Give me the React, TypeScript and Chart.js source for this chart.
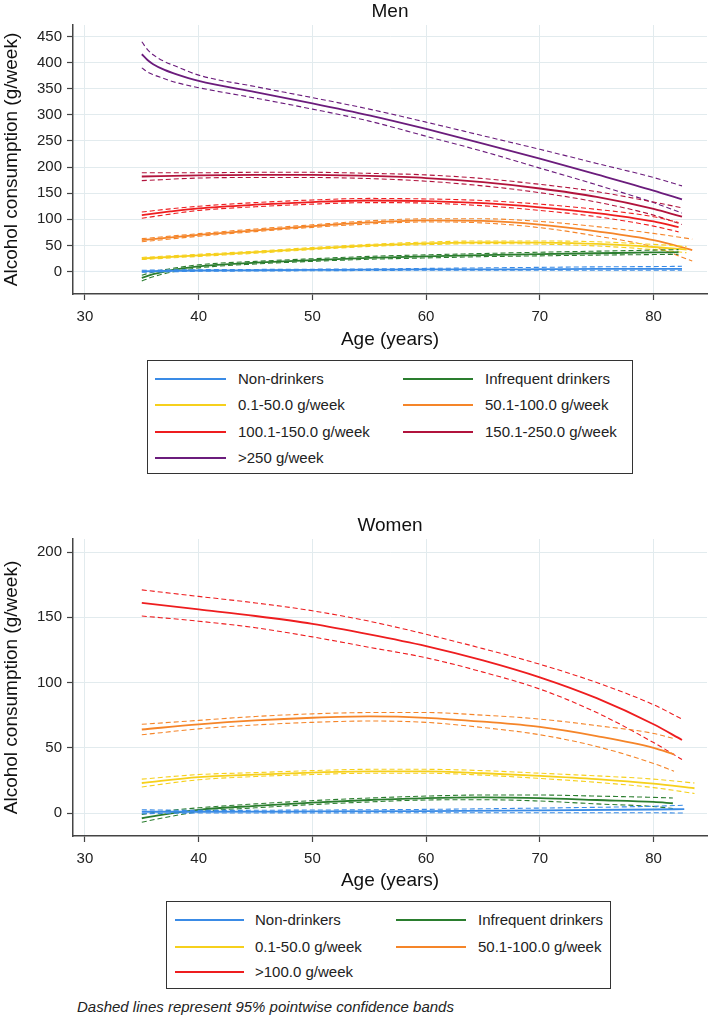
import React, { useEffect, useRef } from "react";
import { Chart, registerables } from "chart.js";

Chart.register(...registerables);

const FONT = '"Liberation Sans", Arial, Helvetica, sans-serif';

// ---------- Men ----------
const M_LABELS = ["Non-drinkers", "Infrequent drinkers", "0.1-50.0 g/week", "50.1-100.0 g/week", "100.1-150.0 g/week", "150.1-250.0 g/week", ">250 g/week"];
const M_COLORS = ["#3a8be6", "#2a7d2e", "#f6d01c", "#f58529", "#ee1d1f", "#b1133c", "#6b1c7c"];

const AGES_M_NON = [35, 40, 45, 50, 55, 60, 65, 70, 75, 80, 82.5];
const M_NON = [0.5, 2, 2.5, 3, 3.5, 4, 4, 4.5, 5, 5, 5];
const M_NON_UP = [2.5, 3.5, 4, 4.5, 5, 6, 7, 8, 9, 9.5, 10];
const M_NON_LO = [-1.5, 0.5, 1, 1.5, 2, 2.5, 2.5, 2.5, 2.5, 2.5, 2.5];

const AGES_M_INF = [35, 36, 37, 38, 40, 45, 50, 55, 60, 65, 70, 75, 80, 82.2];
const M_INF = [-12, -5, 0, 4, 10, 17, 22, 26, 29, 31.5, 33.5, 35, 36.5, 37];
const M_INF_UP = [-7, -1, 3.5, 7, 13, 19.5, 24.5, 29, 32, 34.5, 37, 39, 41, 42];
const M_INF_LO = [-18, -10, -4, 0.5, 7, 14.5, 19.5, 23.5, 26, 28.5, 30, 31.5, 32.5, 33];

const AGES_M_LOW = [35, 40, 45, 50, 55, 60, 65, 70, 75, 80, 82.9];
const M_LOW = [25, 31, 37, 44, 50, 54, 56, 55.5, 53, 47, 42];
const M_LOW_UP = [27, 33, 39, 46, 52, 56.5, 58.5, 58.5, 57, 52, 48];
const M_LOW_LO = [23, 29, 35, 42, 48, 51.5, 53.5, 52.5, 49, 42, 36];

const AGES_M_MOD = [35, 40, 45, 50, 55, 60, 65, 70, 75, 80, 83.4];
const M_MOD = [60, 70, 79, 87, 94, 98, 97, 90, 77, 60, 41];
const M_MOD_UP = [63, 72.5, 81.5, 89.5, 97, 101, 101, 96, 86, 73, 62];
const M_MOD_LO = [57, 67.5, 76.5, 84.5, 91, 95, 93, 84, 68, 47, 20];

const AGES_M_HIGH = [35, 37.5, 40, 45, 50, 55, 60, 65, 70, 75, 80, 82.2];
const M_HIGH = [108, 115, 121, 128, 133, 136, 135, 131, 123, 112, 96, 85];
const M_HIGH_UP = [114, 120, 125, 132, 137, 140, 139, 136, 129, 119, 105, 94];
const M_HIGH_LO = [102, 110, 117, 124, 129, 132, 131, 126, 117, 105, 87, 76];

const AGES_M_VHIGH = [35, 40, 45, 50, 55, 60, 65, 70, 75, 80, 82.5];
const M_VHIGH = [182, 184, 185, 185, 183, 179, 171, 159, 143, 120, 105];
const M_VHIGH_UP = [189, 189, 190, 190, 188, 185, 178, 167, 153, 133, 122];
const M_VHIGH_LO = [174, 179, 180, 180, 178, 173, 164, 151, 133, 108, 90];

const AGES_M_HEAVY = [35, 35.5, 36, 37, 38, 40, 45, 50, 55, 60, 65, 70, 75, 80, 82.5];
const M_HEAVY = [416, 405, 397, 386, 378, 365, 343.5, 322, 299, 273, 245, 216, 186, 155, 138];
const M_HEAVY_UP = [440, 425, 415, 402, 393, 376, 354, 333, 311, 286, 260, 234, 207, 180, 164];
const M_HEAVY_LO = [390, 382, 377, 369, 362, 352, 332, 311, 288, 259, 230, 198, 166, 132, 112];

// ---------- Women ----------
const W_LABELS = ["Non-drinkers", "Infrequent drinkers", "0.1-50.0 g/week", "50.1-100.0 g/week", ">100.0 g/week"];
const W_COLORS = ["#3a8be6", "#2a7d2e", "#f6d01c", "#f58529", "#ee1d1f"];

const AGES_W_NON = [35, 40, 50, 60, 70, 80, 82.7];
const W_NON = [1, 1, 1.2, 1.5, 2, 2.7, 3];
const W_NON_UP = [2.5, 2, 2.3, 2.8, 3.8, 5.2, 6];
const W_NON_LO = [-0.5, 0, 0.1, 0.2, 0.2, 0.2, 0];

const AGES_W_INF = [35, 37, 40, 45, 50, 55, 60, 65, 70, 75, 80, 81.7];
const W_INF = [-4, -1, 2.5, 5.5, 8, 10, 11.5, 12, 11.5, 10, 8.5, 7.5];
const W_INF_UP = [-1, 1.5, 4, 7, 9.5, 11.5, 13, 13.8, 13.8, 13, 12, 11.5];
const W_INF_LO = [-7, -3.5, 1, 4, 6.5, 8.5, 10, 10.2, 9.2, 7, 5, 3.5];

const AGES_W_LOW = [35, 40, 45, 50, 55, 60, 65, 70, 75, 80, 83.6];
const W_LOW = [23, 27.5, 29.5, 31, 32, 32, 30.5, 28.5, 26, 22.5, 19];
const W_LOW_UP = [26, 29.5, 31, 32.5, 33.5, 33.5, 32.5, 30.5, 28.5, 26, 23];
const W_LOW_LO = [20, 25.5, 28, 29.5, 30.5, 30.5, 29, 26.5, 23.5, 19.5, 15];

const AGES_W_MOD = [35, 40, 45, 50, 55, 60, 65, 70, 75, 80, 81.8];
const W_MOD = [64, 68, 71, 73, 74, 73, 70, 66, 59, 50, 45];
const W_MOD_UP = [68, 71, 74, 76, 77, 77, 75, 72, 67, 61, 57];
const W_MOD_LO = [60, 64.5, 67.5, 69.5, 70.5, 69.5, 65.5, 60, 51, 38, 32];

const AGES_W_HIGH = [35, 40, 45, 50, 55, 60, 65, 70, 75, 80, 82.5];
const W_HIGH = [161, 156, 151, 145, 137, 128, 117, 104, 88, 68, 56];
const W_HIGH_UP = [171, 166, 161, 155, 147, 137, 126, 114, 100, 83, 72];
const W_HIGH_LO = [151, 147, 142, 135, 127, 119, 108, 95, 77, 54, 41];

const X_TICK_STEP = 10;
const M_Y_STEP = 50;
const W_Y_STEP = 50;

type Series = { label: string; color: string; ages: number[]; mean: number[]; upper: number[]; lower: number[] };

const MEN: Series[] = [
  { label: M_LABELS[0], color: M_COLORS[0], ages: AGES_M_NON, mean: M_NON, upper: M_NON_UP, lower: M_NON_LO },
  { label: M_LABELS[1], color: M_COLORS[1], ages: AGES_M_INF, mean: M_INF, upper: M_INF_UP, lower: M_INF_LO },
  { label: M_LABELS[2], color: M_COLORS[2], ages: AGES_M_LOW, mean: M_LOW, upper: M_LOW_UP, lower: M_LOW_LO },
  { label: M_LABELS[3], color: M_COLORS[3], ages: AGES_M_MOD, mean: M_MOD, upper: M_MOD_UP, lower: M_MOD_LO },
  { label: M_LABELS[4], color: M_COLORS[4], ages: AGES_M_HIGH, mean: M_HIGH, upper: M_HIGH_UP, lower: M_HIGH_LO },
  { label: M_LABELS[5], color: M_COLORS[5], ages: AGES_M_VHIGH, mean: M_VHIGH, upper: M_VHIGH_UP, lower: M_VHIGH_LO },
  { label: M_LABELS[6], color: M_COLORS[6], ages: AGES_M_HEAVY, mean: M_HEAVY, upper: M_HEAVY_UP, lower: M_HEAVY_LO },
];

const WOMEN: Series[] = [
  { label: W_LABELS[0], color: W_COLORS[0], ages: AGES_W_NON, mean: W_NON, upper: W_NON_UP, lower: W_NON_LO },
  { label: W_LABELS[1], color: W_COLORS[1], ages: AGES_W_INF, mean: W_INF, upper: W_INF_UP, lower: W_INF_LO },
  { label: W_LABELS[2], color: W_COLORS[2], ages: AGES_W_LOW, mean: W_LOW, upper: W_LOW_UP, lower: W_LOW_LO },
  { label: W_LABELS[3], color: W_COLORS[3], ages: AGES_W_MOD, mean: W_MOD, upper: W_MOD_UP, lower: W_MOD_LO },
  { label: W_LABELS[4], color: W_COLORS[4], ages: AGES_W_HIGH, mean: W_HIGH, upper: W_HIGH_UP, lower: W_HIGH_LO },
];

const pts = (ages: number[], vals: number[]) => ages.map((a, i) => ({ x: a, y: vals[i] }));

function buildDatasets(series: Series[]) {
  const out: any[] = [];
  series.forEach((s) => {
    const base = { borderColor: s.color, pointRadius: 0, cubicInterpolationMode: "monotone", fill: false };
    out.push({ ...base, label: s.label + " upper", data: pts(s.ages, s.upper), borderWidth: 1.1, borderDash: [5, 3] });
    out.push({ ...base, label: s.label + " lower", data: pts(s.ages, s.lower), borderWidth: 1.1, borderDash: [5, 3] });
    out.push({ ...base, label: s.label, data: pts(s.ages, s.mean), borderWidth: 1.8 });
  });
  return out;
}

const panelTitle = {
  id: "panelTitle",
  afterDraw(chart: any, _args: any, opts: any) {
    const { ctx, chartArea } = chart;
    ctx.save();
    ctx.font = `19px ${FONT}`;
    ctx.fillStyle = "#111";
    ctx.textAlign = "center";
    ctx.textBaseline = "alphabetic";
    ctx.fillText(opts.text, (chartArea.left + chartArea.right) / 2, opts.y);
    ctx.restore();
  },
};

type PanelProps = {
  series: Series[];
  title: string;
  top: number;
  height: number;
  padTop: number;
  titleY: number;
  xHeight: number;
  xTitlePad: number;
  yMin: number;
  yMax: number;
  yStep: number;
};

function Panel(p: PanelProps) {
  const ref = useRef<HTMLCanvasElement>(null);
  useEffect(() => {
    if (!ref.current) return;
    const chart = new Chart(ref.current, {
      type: "line",
      data: { datasets: buildDatasets(p.series) },
      plugins: [panelTitle],
      options: {
        animation: false,
        responsive: false,
        devicePixelRatio: 1,
        layout: { padding: { top: p.padTop, left: 0, right: 2, bottom: 0 } },
        plugins: {
          legend: { display: false },
          title: { display: false },
          tooltip: { enabled: false },
          panelTitle: { text: p.title, y: p.titleY },
        } as any,
        scales: {
          x: {
            type: "linear",
            min: 28.95,
            max: 84.7,
            afterFit: (s: any) => { s.height = p.xHeight; },
            ticks: { stepSize: X_TICK_STEP, includeBounds: false, font: { family: FONT, size: 15 }, color: "#222", padding: 8, maxRotation: 0 } as any,
            grid: { color: "#e2ebee", lineWidth: 1, tickColor: "#444", tickLength: 6, tickWidth: 1.2 },
            border: { color: "#444", width: 1.5 },
            title: { display: true, text: "Age (years)", font: { family: FONT, size: 19 }, color: "#111", padding: { top: 0, bottom: p.xTitlePad } },
          },
          y: {
            type: "linear",
            min: p.yMin,
            max: p.yMax,
            afterFit: (s: any) => { s.width = 73; },
            ticks: { stepSize: p.yStep, includeBounds: false, font: { family: FONT, size: 15 }, color: "#222", padding: 5 } as any,
            grid: { color: "#e2ebee", lineWidth: 1, tickColor: "#444", tickLength: 6, tickWidth: 1.2 },
            border: { color: "#444", width: 1.5 },
            title: { display: true, text: "Alcohol consumption (g/week)", font: { family: FONT, size: 19 }, color: "#111", padding: { top: 0, bottom: 0 } },
          },
        },
      } as any,
    });
    return () => chart.destroy();
  }, []);
  return (
    <canvas
      ref={ref}
      width={709}
      height={p.height}
      style={{ position: "absolute", left: 0, top: p.top, width: 709, height: p.height, display: "block" }}
    />
  );
}

type LegendProps = {
  series: Series[];
  left: number;
  top: number;
  width: number;
  height: number;
  rowY: number[];
  col1: [number, number, number];
  col2: [number, number, number];
};

function Legend(p: LegendProps) {
  return (
    <div
      style={{
        position: "absolute",
        left: p.left,
        top: p.top,
        width: p.width,
        height: p.height,
        border: "1px solid #333",
        boxSizing: "border-box",
        fontFamily: FONT,
        fontSize: 15,
        color: "#222",
      }}
    >
      {p.series.map((s, i) => {
        const row = Math.floor(i / 2);
        const col = i % 2 === 0 ? p.col1 : p.col2;
        const cy = Math.round(p.rowY[row] - p.top - 1);
        return (
          <React.Fragment key={s.label}>
            <div style={{ position: "absolute", left: col[0] - p.left - 1, top: cy - 1, width: col[1], height: 2, background: s.color }} />
            <div style={{ position: "absolute", left: col[2] - p.left - 1, top: cy - 10, height: 20, lineHeight: "20px", whiteSpace: "nowrap" }}>{s.label}</div>
          </React.Fragment>
        );
      })}
    </div>
  );
}

export default function App() {
  return (
    <div style={{ position: "absolute", left: 0, top: 0, width: 709, height: 1016, background: "#fff", overflow: "hidden" }}>
      <Panel series={MEN} title="Men" top={0} height={355} padTop={25} titleY={16.5} xHeight={61} xTitlePad={3.6} yMin={-43} yMax={472} yStep={M_Y_STEP} />
      <Legend series={MEN} left={147} top={360} width={486} height={114} rowY={[379, 405, 431.5, 458]} col1={[155, 71, 238]} col2={[403, 70, 485]} />
      <Panel series={WOMEN} title="Women" top={500} height={395} padTop={39} titleY={31.3} xHeight={59} xTitlePad={2.6} yMin={-17.6} yMax={210} yStep={W_Y_STEP} />
      <Legend series={WOMEN} left={166} top={901} width={445} height={88} rowY={[920, 946.5, 972]} col1={[175, 69, 255]} col2={[396, 70, 478]} />
      <div style={{ position: "absolute", left: 77, top: 997, fontFamily: FONT, fontSize: 15, fontStyle: "italic", color: "#222", lineHeight: "20px", whiteSpace: "nowrap" }}>
        Dashed lines represent 95% pointwise confidence bands
      </div>
    </div>
  );
}
